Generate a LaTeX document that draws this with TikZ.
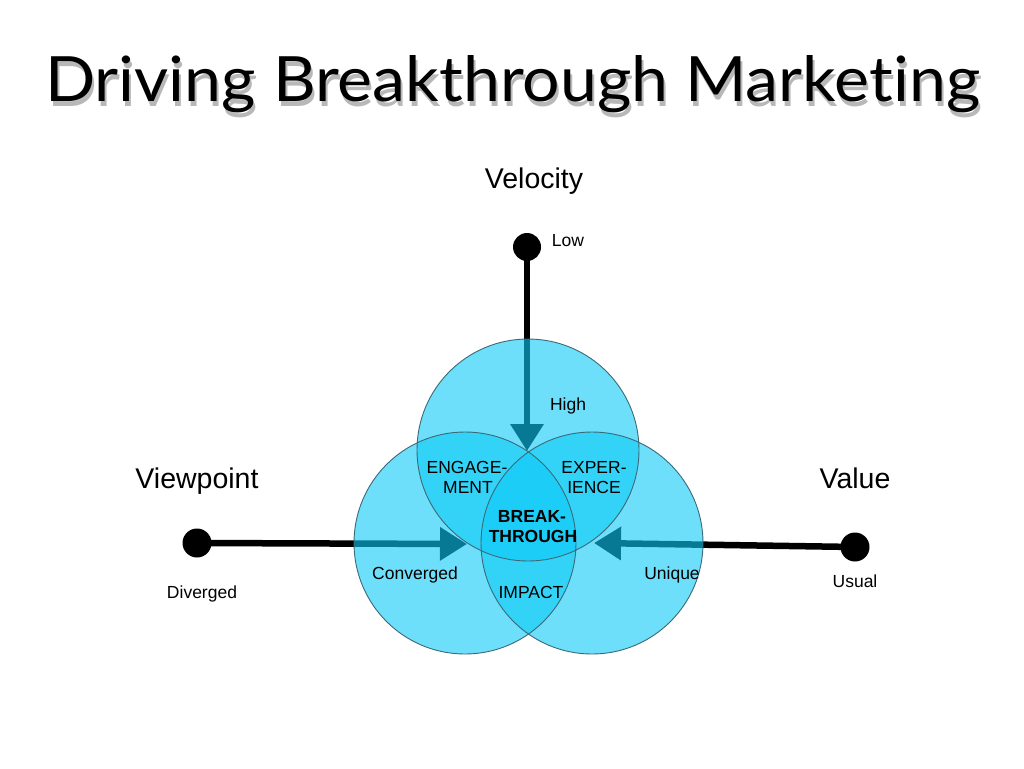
\documentclass[tikz,border=0pt]{standalone}
\usepackage{fontspec}
\setmainfont{Liberation Sans}
\newfontfamily\titlefont[Ligatures={NoCommon,NoDiscretionary}]{Lato}
\usetikzlibrary{arrows.meta}
\definecolor{circfill}{RGB}{13,203,247}
\definecolor{circline}{RGB}{60,105,118}
\newcommand{\titletext}{\resizebox{935pt}{46pt}{\titlefont Driving Breakthrough Marke\kern0pt ting}}
\begin{document}
\begin{tikzpicture}[x=1pt,y=-1pt,
  lbl/.style={font=\fontsize{17.5}{20}\selectfont, anchor=base, inner sep=0pt},
  lblb/.style={lbl, font=\fontsize{17.5}{20}\selectfont\bfseries},
  big/.style={font=\fontsize{28.5}{32}\selectfont, anchor=base, inner sep=0pt},
  dotnode/.style={circle, fill=black, minimum size=28pt, inner sep=0pt},
  sketch/.style={line width=6.5pt, -{Triangle[length=27pt,width=32pt]}},
  venn/.style={circle, minimum size=222pt, inner sep=0pt, fill=circfill, fill opacity=0.6},
  ring/.style={draw=circline, line width=0.9pt},
  titlest/.style={anchor=base west, inner sep=0pt}
]
\useasboundingbox (0,0) rectangle (1024,768);
\fill[white] (0,0) rectangle (1024,768);

% title with soft shadow
\node[titlest, opacity=0.28] (shadow) at (47,106) {\titletext};
\node[titlest] (title) at (45,101) {\titletext};

% dots
\node[dotnode] (vdot) at (527,247) {};
\node[dotnode, minimum size=29pt] (ldot) at (197,543) {};
\node[dotnode, minimum size=29pt] (rdot) at (855,547) {};
\coordinate (vtip) at (527,451);
\coordinate (ltip) at (467,544);
\coordinate (rtip) at (594,543);

% arrows
\draw[sketch] (vdot.center) -- (vtip);
\draw[sketch] (ldot.center) -- (ltip);
\draw[sketch] (rdot.center) -- (rtip);

% circles
\node[venn] (ctop) at (528,450) {};
\node[venn] (cleft) at (465,543) {};
\node[venn] (cright) at (592,543) {};
\draw[ring] (ctop.center) circle[radius=111pt];
\draw[ring] (cleft.center) circle[radius=111pt];
\draw[ring] (cright.center) circle[radius=111pt];

% big labels
\node[big] (velocity) at (534,188) {Velocity};
\node[big] (viewpoint) at (197,488) {Viewpoint};
\node[big] (value) at (855,488) {Value};

% small labels
\node[lbl] (low) at (568,246) {Low};
\node[lbl] (high) at (568,410) {High};
\node[lbl] (eng1) at (467,473) {ENGAGE-};
\node[lbl] (eng2) at (468,493) {MENT};
\node[lbl] (exp1) at (594,473) {EXPER-};
\node[lbl] (exp2) at (594,493) {IENCE};
\node[lblb] (bt1) at (532,522) {BREAK-};
\node[lblb] (bt2) at (533,542) {THROUGH};
\node[lbl] (impact) at (531,598) {IMPACT};
\node[lbl] (conv) at (415,579) {Converged};
\node[lbl] (uniq) at (672,579) {Unique};
\node[lbl] (div) at (202,598) {Diverged};
\node[lbl] (usual) at (855,587) {Usual};
\end{tikzpicture}
\end{document}
